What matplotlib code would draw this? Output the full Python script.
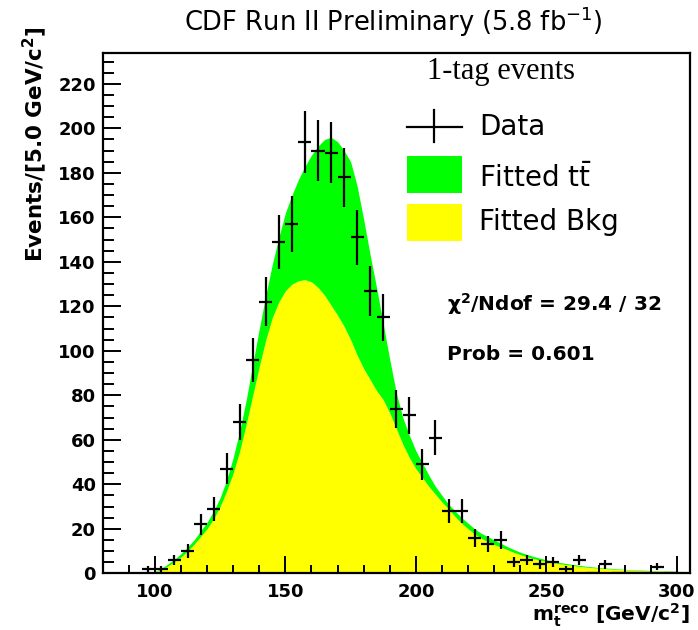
"""CDF top mass template fit, 1-tag events: data vs fitted signal + background."""
import matplotlib
matplotlib.use("Agg")
import matplotlib.pyplot as plt
import numpy as np
from matplotlib.patches import Rectangle
from matplotlib.lines import Line2D
from matplotlib.ticker import MultipleLocator

plt.rcParams["font.family"] = ["DejaVu Sans"]
plt.rcParams["mathtext.default"] = "regular"

# data histogram (5 GeV bins)
bin_centers = [97.5, 102.5, 107.5, 112.5, 117.5, 122.5, 127.5, 132.5, 137.5, 142.5,
               147.5, 152.5, 157.5, 162.5, 167.5, 172.5, 177.5, 182.5, 187.5, 192.5,
               197.5, 202.5, 207.5, 212.5, 217.5, 222.5, 227.5, 232.5, 237.5, 242.5,
               247.5, 252.5, 257.5, 262.5, 267.5, 272.5, 277.5, 282.5, 287.5, 292.5,
               297.5]
counts = [2, 2, 6, 10, 22, 29, 47, 68, 96, 122,
          149, 157, 194, 190, 189, 178, 151, 127, 115, 74,
          71, 49, 61, 28, 28, 16, 13, 15, 5, 6,
          4, 5, 2, 6, 0, 4, 0, 0, 0, 3,
          0]

# fitted curves
fit_mass = [95, 97.5, 100, 102.5, 105, 107.5, 110, 112.5, 115, 117.5,
            120, 122.5, 125, 127.5, 130, 132.5, 135, 137.5, 140, 142.5,
            145, 147.5, 150, 152.5, 155, 157.5, 160, 162.5, 165, 167.5,
            170, 172.5, 175, 177.5, 180, 182.5, 185, 187.5, 190, 192.5,
            195, 197.5, 200, 202.5, 205, 207.5, 210, 212.5, 215, 217.5,
            220, 222.5, 225, 227.5, 230, 232.5, 235, 237.5, 240, 242.5,
            245, 247.5, 250, 252.5, 255, 257.5, 260, 262.5, 265, 270,
            275, 280, 285, 290, 295, 300, 305]
fit_total = [0, 0.1, 0.8, 2.2, 4.2, 6.3, 8.8, 11.8, 15, 19,
             23, 28, 34, 42, 52, 64, 78, 94, 110, 125,
             139, 151, 162, 170, 177, 183, 188, 192, 195, 196,
             194, 190, 185, 174, 159, 143, 128, 112, 96, 81,
             70, 62, 55, 49.5, 44, 39, 35, 31, 28, 25,
             22.5, 20, 18, 16.5, 15, 13.5, 12, 10.7, 9.5, 8.5,
             7.6, 6.8, 6.1, 5.5, 4.9, 4.4, 4.0, 3.6, 3.2, 2.6,
             2.2, 1.8, 1.5, 1.3, 1.1, 0.9, 0.8]
fit_bkg = [0, 0.1, 0.6, 1.7, 3.3, 5.2, 7.3, 10, 13, 16.5,
           20, 24.5, 30, 37, 45, 55, 67, 80, 93, 105,
           115, 122, 127, 130, 131.5, 132, 131, 128.5, 125, 120.5,
           116, 111, 105, 98, 92, 87, 82, 78, 72, 65,
           58, 52, 47, 43, 39, 35.5, 32, 29, 25.5, 22.5,
           20, 17.7, 15.8, 14.2, 12.9, 11.8, 10.6, 9.4, 8.4, 7.4,
           6.6, 5.9, 5.3, 4.8, 4.3, 3.9, 3.5, 3.1, 2.8, 2.3,
           1.9, 1.6, 1.3, 1.1, 0.95, 0.8, 0.7]

GREEN = "#00ff00"
YELLOW = "#ffff00"


def main():
    fig = plt.figure(figsize=(6.98, 6.3), dpi=100)
    ax = fig.add_axes([0.1471, 0.09, 0.8414, 0.8263])

    ax.fill_between(fit_mass, 0, fit_bkg, color=YELLOW, linewidth=0, zorder=1)
    ax.fill_between(fit_mass, fit_bkg, fit_total, color=GREEN, linewidth=0, zorder=1)

    n = np.array(counts, dtype=float)
    ax.errorbar(bin_centers, counts, xerr=2.5, yerr=np.sqrt(n), fmt="none",
                ecolor="black", elinewidth=1.6, capsize=0, zorder=3)

    ax.set_xlim(80, 305)
    ax.set_ylim(0, 234)
    ax.xaxis.set_major_locator(MultipleLocator(50))
    ax.xaxis.set_minor_locator(MultipleLocator(10))
    ax.yaxis.set_major_locator(MultipleLocator(20))
    ax.yaxis.set_minor_locator(MultipleLocator(5))
    ax.tick_params(which="both", direction="in", top=False, right=False,
                   width=1.4, labelsize=13)
    ax.tick_params(axis="y", which="major", length=13, pad=5)
    ax.tick_params(axis="y", which="minor", length=8)
    ax.tick_params(axis="x", which="major", length=12, pad=7)
    ax.tick_params(axis="x", which="minor", length=6)
    for lab in ax.get_xticklabels() + ax.get_yticklabels():
        lab.set_fontweight("bold")
    for sp in ax.spines.values():
        sp.set_linewidth(1.6)

    # legend drawn by hand, ROOT style
    tr = ax.transAxes
    ax.text(0.552, 0.963, "1-tag events", transform=tr, ha="left", va="center",
            family="Liberation Serif", fontsize=22)
    ax.add_line(Line2D([0.5176, 0.6113], [0.8573, 0.8573], transform=tr,
                       color="black", lw=1.6))
    ax.add_line(Line2D([0.5644, 0.5644], [0.8285, 0.890], transform=tr,
                       color="black", lw=1.6))
    ax.text(0.6413, 0.8573, "Data", transform=tr, ha="left", va="center", fontsize=20)
    ax.add_patch(Rectangle((0.5176, 0.7311), 0.0937, 0.0705, transform=tr,
                           facecolor=GREEN, edgecolor="none"))
    ax.text(0.6413, 0.7587, r"Fitted t$\bar{t}$", transform=tr, ha="left",
            va="center", fontsize=20)
    ax.add_patch(Rectangle((0.5176, 0.6389), 0.0937, 0.0705, transform=tr,
                           facecolor=YELLOW, edgecolor="none"))
    ax.text(0.6413, 0.6754, "Fitted Bkg", transform=tr, ha="left", va="center",
            fontsize=20)

    ax.text(0.5857, 0.517, r"$\chi^2$/Ndof = 29.4 / 32", transform=tr, ha="left",
            va="center", fontsize=14.5, fontweight="bold")
    ax.text(0.5857, 0.421, "Prob = 0.601", transform=tr, ha="left", va="center",
            fontsize=14.5, fontweight="bold")

    fig.text(0.563, 0.965, r"CDF Run II Preliminary (5.8 fb$^{-1}$)", ha="center",
             va="center", fontsize=18.5)
    fig.text(35 / 698, 1 - 26 / 630, r"Events/[5.0 GeV/c$^{2}$]", rotation=90,
             ha="center", va="top", fontsize=15.5, fontweight="bold")
    fig.text(690 / 698, 15 / 630, r"m$_{t}^{reco}$ [GeV/c$^{2}$]", ha="right",
             va="center", fontsize=14.5, fontweight="bold")

    fig.savefig("out.png", dpi=100)
    plt.close(fig)


if __name__ == "__main__":
    main()
